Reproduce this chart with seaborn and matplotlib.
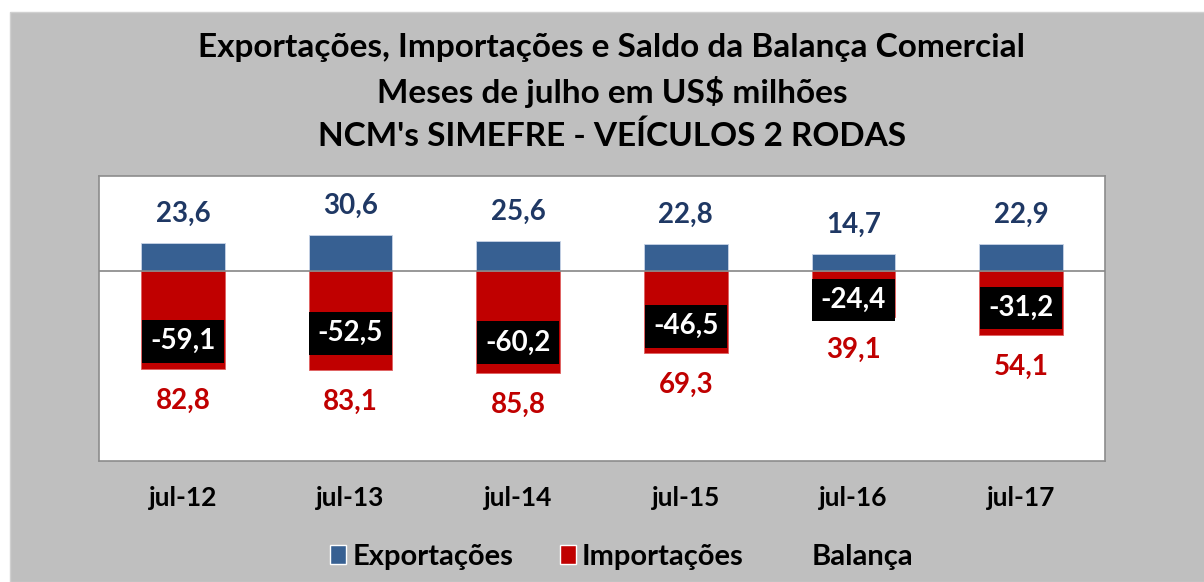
import pandas as pd
import matplotlib
matplotlib.use('Agg')
import matplotlib.pyplot as plt
import matplotlib.patches as mpatches
import seaborn as sns

meses = ["jul-12", "jul-13", "jul-14", "jul-15", "jul-16", "jul-17"]
exportacoes = [23.6, 30.6, 25.6, 22.8, 14.7, 22.9]
importacoes = [82.8, 83.1, 85.8, 69.3, 39.1, 54.1]
balanca = [-59.1, -52.5, -60.2, -46.5, -24.4, -31.2]

df = pd.DataFrame({"mes": meses, "exp": exportacoes,
                   "imp": [-v for v in importacoes], "bal": balanca})

def br(v):
    return f"{v:.1f}".replace(".", ",")

sns.set_theme(style="white")
plt.rcParams['font.family'] = ['Lato', 'DejaVu Sans']
plt.rcParams['text.color'] = 'black'

fig = plt.figure(figsize=(12.04, 5.82), dpi=100, facecolor="white")
fig.patches.append(mpatches.Rectangle((10 / 1204, 0), 1, 1 - 12 / 582,
                                      transform=fig.transFigure,
                                      facecolor="#bfbfbf", edgecolor="#d0d0d0",
                                      lw=1, zorder=-5))
ax = fig.add_axes([99 / 1204, 1 - 461 / 582, 1006 / 1204, 285 / 582])
ax.set_zorder(2)
ax.set_facecolor("white")

sns.barplot(data=df, x="mes", y="exp", color="#376092", width=0.5,
            saturation=1, ax=ax, zorder=2)
sns.barplot(data=df, x="mes", y="imp", color="#c00000", width=0.5,
            saturation=1, ax=ax, zorder=2)
for p in ax.patches:
    p.set_edgecolor("#c8d4e6" if p.get_height() > 0 else "#e06060")
    p.set_linewidth(0.6)

ax.axhline(0, color="#868686", lw=1.2, zorder=3)
ax.set_ylim(-160, 80)
ax.set_xlim(-0.5, 5.5)

for i in range(len(meses)):
    ax.annotate(br(exportacoes[i]), (i, exportacoes[i]), xytext=(0, 21),
                textcoords="offset points", ha="center", va="center",
                fontsize=20, fontweight="bold", color="#1f3864")
    ax.annotate(br(importacoes[i]), (i, -importacoes[i]), xytext=(0, -23),
                textcoords="offset points", ha="center", va="center",
                fontsize=20, fontweight="bold", color="#c00000")
    ax.text(i, balanca[i], br(balanca[i]), ha="center", va="center",
            fontsize=20, fontweight="bold", color="white", zorder=5,
            bbox=dict(boxstyle="square,pad=0.3", facecolor="black",
                      edgecolor="none"))

ax.set_yticks([])
ax.set_xlabel("")
ax.set_ylabel("")
ax.tick_params(axis="x", length=0, pad=18)
for lab in ax.get_xticklabels():
    lab.set_fontsize(19)
    lab.set_fontweight("bold")
    lab.set_color("black")
for s in ax.spines.values():
    s.set_visible(True)
    s.set_color("#8c8c8c")
    s.set_linewidth(1.2)

titulos = ["Exportações, Importações e Saldo da Balança Comercial",
           "Meses de julho em US$ milhões",
           "NCM's SIMEFRE - VEÍCULOS 2 RODAS"]
for k, t in enumerate(titulos):
    fig.text(612 / 1204, 1 - (48 + 44 * k) / 582, t, ha="center", va="center",
             fontsize=24, fontweight="bold", color="black")

handles = [mpatches.Patch(facecolor="#376092", label="Exportações"),
           mpatches.Patch(facecolor="#c00000", label="Importações"),
           mpatches.Patch(facecolor="none", edgecolor="none", label="Balança")]
leg = fig.legend(handles=handles, loc="center",
                 bbox_to_anchor=(622 / 1204, 1 - 557 / 582),
                 ncol=3, frameon=False, handlelength=0.55,
                 handleheight=0.65, handletextpad=0.2, columnspacing=1.6,
                 prop={"size": 21, "weight": "bold"})
for t in leg.get_texts():
    t.set_color("black")

fig.savefig("out.png", dpi=100, facecolor=fig.get_facecolor())
plt.close()
